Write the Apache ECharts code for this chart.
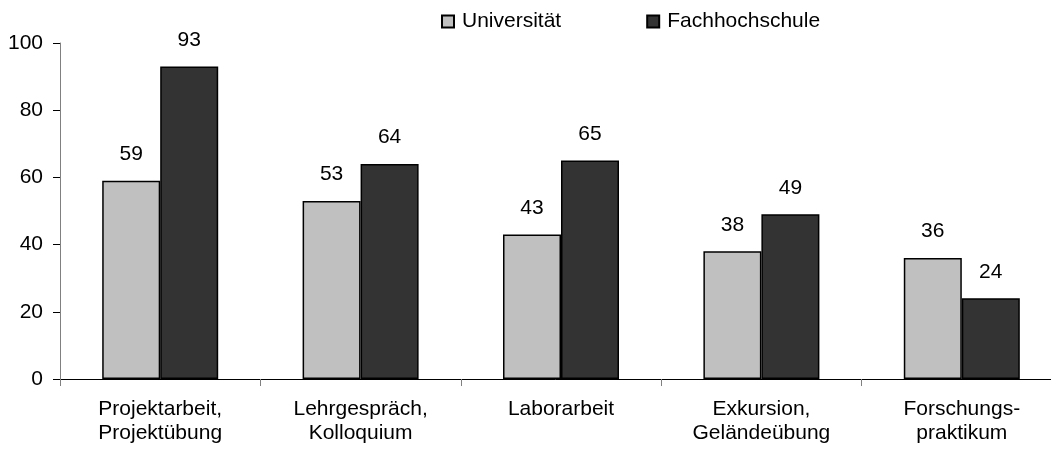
<!DOCTYPE html>
<html>
<head>
<meta charset="utf-8">
<script src="https://cdn.jsdelivr.net/npm/echarts@6/dist/echarts.min.js"></script>
<style>
  html, body { margin: 0; padding: 0; background: #fff; }
  #chart { width: 1051px; height: 453px; }
</style>
</head>
<body>
<div id="chart"></div>
<script>
// Daten
const categories = ['Projektarbeit,\nProjektübung', 'Lehrgespräch,\nKolloquium', 'Laborarbeit', 'Exkursion,\nGeländeübung', 'Forschungs-\npraktikum']
const universitaet = [59, 53, 43, 38, 36]
const fachhochschule = [93, 64, 65, 49, 24]
const yTicks = [0, 20, 40, 60, 80, 100]

const font = '"Liberation Sans", Arial, sans-serif'

const myChart = echarts.init(document.getElementById('chart'))

const option = {
  animation: false,
  backgroundColor: '#fff',
  textStyle: { fontFamily: font, color: '#000' },
  legend: {
    left: 436,
    top: 6,
    itemWidth: 12,
    itemHeight: 12,
    itemGap: 85,
    icon: 'rect',
    textStyle: { fontFamily: font, fontSize: 21, color: '#000', padding: [0, 0, 0, 3] },
    data: ['Universität', 'Fachhochschule']
  },
  // Achse läuft rechts über den Bildrand hinaus
  grid: {
    left: 60,
    width: 1002,
    top: 43,
    bottom: 74,
    outerBoundsMode: 'none',
    containLabel: false
  },
  xAxis: {
    type: 'category',
    data: categories,
    axisLine: { lineStyle: { color: '#000', width: 1 } },
    axisTick: { show: true, length: 7, lineStyle: { color: '#808080' } },
    axisLabel: {
      fontFamily: font,
      fontSize: 21,
      color: '#000',
      lineHeight: 24,
      margin: 18
    }
  },
  yAxis: {
    type: 'value',
    min: yTicks[0],
    max: yTicks[yTicks.length - 1],
    interval: 20,
    axisLine: { show: true, lineStyle: { color: '#808080', width: 1 } },
    axisTick: { show: true, length: 7, lineStyle: { color: '#000' } },
    splitLine: { show: false },
    axisLabel: { fontFamily: font, fontSize: 21, color: '#000', margin: 17 }
  },
  series: [
    {
      name: 'Universität',
      type: 'bar',
      data: universitaet,
      barWidth: 58,
      barGap: '0%',
      itemStyle: { color: '#C0C0C0', borderColor: '#000', borderWidth: 1.5 },
      label: { show: true, position: 'top', distance: 16, fontFamily: font, fontSize: 21, color: '#000' }
    },
    {
      name: 'Fachhochschule',
      type: 'bar',
      data: fachhochschule,
      barWidth: 58,
      barGap: '0%',
      itemStyle: { color: '#333333', borderColor: '#000', borderWidth: 1.5 },
      label: { show: true, position: 'top', distance: 16, fontFamily: font, fontSize: 21, color: '#000' }
    }
  ]
}

myChart.setOption(option)
</script>
</body>
</html>
